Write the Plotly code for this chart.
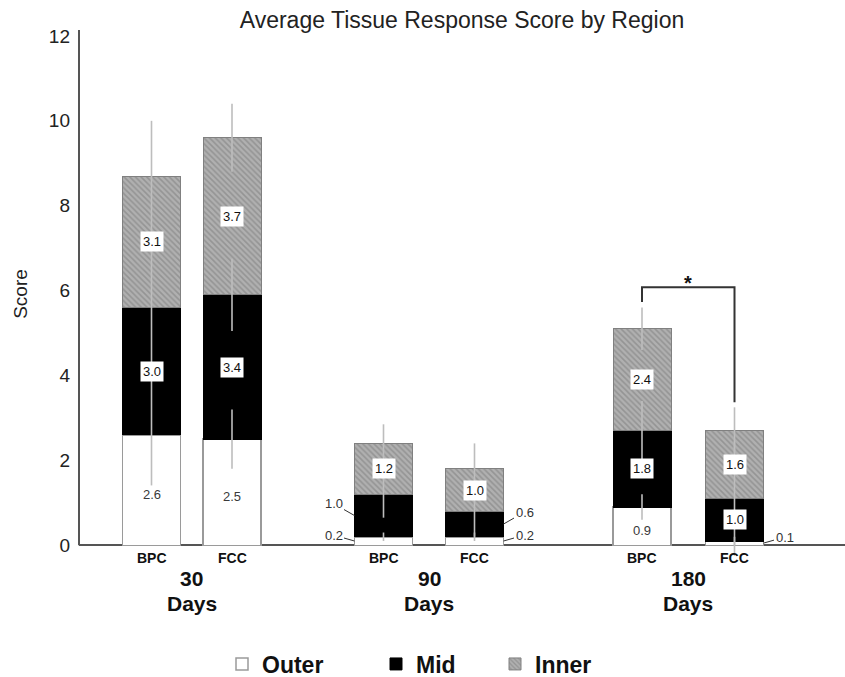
import plotly.graph_objects as go

# ---- data -------------------------------------------------------------
groups = ["30", "90", "180"]
products = ["BPC", "FCC"]

outer = [2.6, 2.5, 0.2, 0.2, 0.9, 0.1]
mid = [3.0, 3.4, 1.0, 0.6, 1.8, 1.0]
inner = [3.1, 3.7, 1.2, 1.0, 2.4, 1.6]

outer_sd = [1.2, 0.7, 0.1, 0.1, 0.3, 0.1]
mid_sd = [1.8, 0.85, 0.55, 0.6, 0.7, 1.35]
inner_sd = [1.3, 0.8, 0.45, 0.6, 0.5, 0.55]

y_ticks = [0, 2, 4, 6, 8, 10, 12]

# ---- layout helpers ---------------------------------------------------
FONT = "Liberation Sans, Arial, Helvetica, sans-serif"
group_center = [112.75, 350.0, 609.25]
half_gap = [40.25, 45.5, 46.25]
BAR_W = 58
x_pos = []
for gc, hg in zip(group_center, half_gap):
    x_pos += [gc - hg, gc + hg]

n = len(outer)
tops_outer = outer[:]
tops_mid = [o + m for o, m in zip(outer, mid)]
tops_inner = [o + m + i for o, m, i in zip(outer, mid, inner)]

fig = go.Figure()

fig.add_trace(go.Bar(
    x=x_pos, y=outer, width=BAR_W, name="Outer",
    marker=dict(color="white", line=dict(color="#9a9a9a", width=1.5)),
    legend="legend", hoverinfo="skip"))
fig.add_trace(go.Bar(
    x=x_pos, y=mid, width=BAR_W, name="Mid",
    marker=dict(color="black", line=dict(color="black", width=1)),
    legend="legend2", hoverinfo="skip"))
fig.add_trace(go.Bar(
    x=x_pos, y=inner, width=BAR_W, name="Inner",
    marker=dict(color="#b0b0b0", line=dict(color="#808080", width=1),
                pattern=dict(shape="\\", bgcolor="#b0b0b0", fgcolor="#787878",
                             size=4, solidity=0.4, fillmode="overlay")),
    legend="legend3", hoverinfo="skip"))

# error bars for each layer, drawn on top of all bar segments
for tops, sds in [(tops_outer, outer_sd), (tops_mid, mid_sd), (tops_inner, inner_sd)]:
    fig.add_trace(go.Scatter(
        x=x_pos, y=tops, mode="markers",
        marker=dict(size=1, opacity=0),
        error_y=dict(type="data", array=sds, visible=True,
                     color="#bdbdbd", thickness=1.6, width=0),
        showlegend=False, hoverinfo="skip"))

annotations = []

# value labels: boxed inside the segment, or a small callout beside the bar
callouts = {(2, "outer"): -1, (2, "mid"): -1, (3, "outer"): 1, (3, "mid"): 1,
            (4, "outer"): 0, (5, "outer"): 1}
for i in range(n):
    layers = [("outer", outer[i], 0.0), ("mid", mid[i], tops_outer[i]),
              ("inner", inner[i], tops_mid[i])]
    for lname, val, base in layers:
        ymid = base + val / 2
        side = callouts.get((i, lname))
        if side is None or side == 0:
            plain = lname == "outer"
            annotations.append(dict(
                x=x_pos[i], y=ymid, yshift=-4 if plain else 0,
                text=f"{val:.1f}", showarrow=False,
                font=dict(family=FONT, size=13, color="#3a3a3a" if plain else "#111"),
                bgcolor="white", borderpad=2 if not plain else 1))
        else:
            dy = -12 if lname == "mid" else -6
            annotations.append(dict(
                x=x_pos[i] + side * BAR_W / 2, y=ymid, text=f"{val:.1f}",
                showarrow=True, arrowhead=0, arrowwidth=1, arrowcolor="#333",
                ax=side * 21, ay=dy, standoff=0,
                font=dict(family=FONT, size=13, color="#333")))

# category labels under the axis
for i in range(n):
    annotations.append(dict(
        x=x_pos[i], y=0, yshift=-13, text=products[i % 2], showarrow=False,
        font=dict(family=FONT, size=14, color="#111", weight="bold")))
for g, gc in zip(groups, group_center):
    annotations.append(dict(
        x=gc, y=0, yshift=-33, text=g, showarrow=False,
        font=dict(family=FONT, size=21, color="#111", weight="bold")))
    annotations.append(dict(
        x=gc, y=0, yshift=-58, text="Days", showarrow=False,
        font=dict(family=FONT, size=21, color="#111", weight="bold")))

# significance bracket between the 180-day bars
b_left, b_right = 4, 5
leg_l = tops_inner[b_left] + inner_sd[b_left] + 0.13
leg_r = tops_inner[b_right] + inner_sd[b_right] + 0.12
b_top = max(leg_l, leg_r) + 0.35
shapes = [
    dict(type="path", xref="x", yref="y",
         path=(f"M {x_pos[b_left]},{leg_l} L {x_pos[b_left]},{b_top} "
               f"L {x_pos[b_right]},{b_top} L {x_pos[b_right]},{leg_r}"),
         line=dict(color="#333", width=2)),
    # vertical axis line from 0 to the top of the scale
    dict(type="line", xref="paper", yref="y", x0=0, x1=0, y0=0, y1=12.14,
         line=dict(color="#555", width=2)),
]
annotations.append(dict(
    x=(x_pos[b_left] + x_pos[b_right]) / 2, y=b_top, yanchor="bottom", yshift=-9,
    text="*", showarrow=False,
    font=dict(family=FONT, size=20, color="#111", weight="bold")))

legend_common = dict(orientation="h", xref="container", yref="container",
                     xanchor="left", yanchor="middle", y=1 - 664 / 677,
                     bgcolor="rgba(0,0,0,0)",
                     font=dict(family=FONT, size=23, color="#111", weight="bold"))

fig.update_layout(
    width=845, height=677,
    margin=dict(l=79, r=0, t=30, b=119),
    paper_bgcolor="white", plot_bgcolor="white",
    barmode="stack",
    title=dict(text="Average Tissue Response Score by Region",
               x=0.5, xref="paper", y=1 - 20 / 677, yref="container",
               yanchor="middle",
               font=dict(family=FONT, size=23, color="#222")),
    xaxis=dict(range=[0, 766], showticklabels=False, showgrid=False,
               zeroline=False, showline=False, ticks=""),
    yaxis=dict(range=[-0.3, 12.14], tickvals=y_ticks, ticks="",
               ticklabelstandoff=8,
               showgrid=False, showline=False,
               zeroline=True, zerolinecolor="#555", zerolinewidth=2,
               tickfont=dict(family=FONT, size=19, color="#222"),
               title=dict(text="Score", standoff=16,
                          font=dict(family=FONT, size=19, color="#222"))),
    legend=dict(legend_common, x=(247 - 25) / 845),
    legend2=dict(legend_common, x=(401 - 25) / 845),
    legend3=dict(legend_common, x=(520 - 25) / 845),
    annotations=annotations,
    shapes=shapes,
    font=dict(family=FONT),
)

fig.write_html("out.html")
